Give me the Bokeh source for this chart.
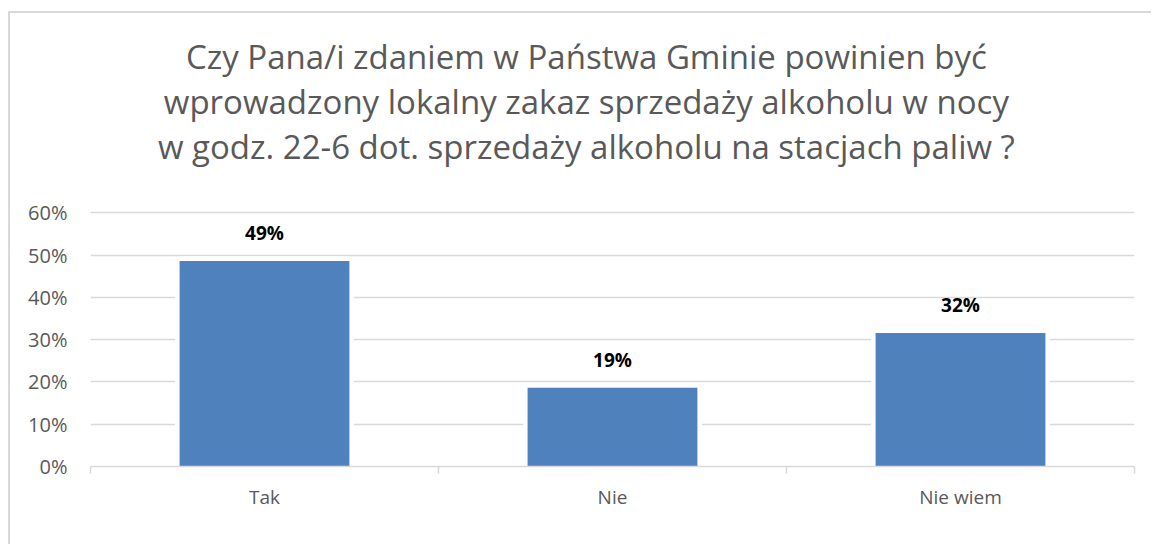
from bokeh.plotting import figure
from bokeh.models import Range1d, FixedTicker, NumeralTickFormatter, LabelSet, Label, ColumnDataSource
from bokeh.embed import file_html
from bokeh.resources import INLINE
from bokeh.core.properties import value

categories = ["Tak", "Nie", "Nie wiem"]
shares = [0.486, 0.186, 0.316]
y_ticks = [0, 0.1, 0.2, 0.3, 0.4, 0.5, 0.6]
title_lines = [
    "Czy Pana/i zdaniem w Państwa Gminie powinien być",
    "wprowadzony lokalny zakaz sprzedaży alkoholu w nocy",
    "w godz. 22-6 dot. sprzedaży alkoholu na stacjach paliw ?",
]

FONT = "Open Sans"
GRID = "#d9d9d9"
TXT = "#595959"

# frame extends to the top of the canvas so the title can sit inside it
Y_END = 1.0714
TITLE_X = 1.425
TITLE_Y0 = 0.969
TITLE_DY = 0.1064

xs = [i + 0.5 for i in range(len(categories))]
labels = [f"{v:.0%}" for v in shares]
src = ColumnDataSource(dict(x=xs, top=shares, label=labels))

p = figure(width=1143, height=533, output_backend="svg", toolbar_location=None,
           x_range=Range1d(0, len(categories)), y_range=Range1d(0, Y_END),
           min_border_left=80, min_border_right=19, min_border_top=0, min_border_bottom=80,
           styles={"border-left": "2px solid #d9d9d9", "border-top": "2px solid #d9d9d9",
                   "margin-top": "11px", "margin-left": "8px"})
p.outline_line_color = None
p.background_fill_color = "white"
p.border_fill_color = "white"

# white halo behind bars (gridline gaps), then the bars
p.vbar(x="x", top="top", bottom=0, width=0.488, source=src,
       fill_color="white", line_color="white", line_width=9)
p.vbar(x="x", top="top", bottom=0, width=0.488, source=src,
       fill_color="#4f81bd", line_color=None)

xa = p.xaxis[0]
xa.ticker = FixedTicker(ticks=xs, minor_ticks=list(range(len(categories) + 1)))
xa.major_label_overrides = {x: c for x, c in zip(xs, categories)}
xa.major_tick_out = 0
xa.major_tick_in = 0
xa.minor_tick_out = 7
xa.minor_tick_in = 0
xa.minor_tick_line_color = GRID
xa.minor_tick_line_width = 1.5
xa.axis_line_color = GRID
xa.axis_line_width = 1.5
xa.major_label_standoff = 10
xa.major_label_text_font = FONT
xa.major_label_text_font_size = "19px"
xa.major_label_text_color = TXT

ya = p.yaxis[0]
ya.ticker = FixedTicker(ticks=y_ticks)
ya.formatter = NumeralTickFormatter(format="0%")
ya.axis_line_color = None
ya.major_tick_out = 0
ya.major_tick_in = 0
ya.minor_tick_line_color = None
ya.major_label_standoff = 23
ya.major_label_text_font = FONT
ya.major_label_text_font_size = "20px"
ya.major_label_text_color = TXT

p.xgrid.visible = False
p.ygrid.ticker = FixedTicker(ticks=y_ticks)
p.ygrid.grid_line_color = GRID
p.ygrid.grid_line_width = 1.3

p.add_layout(LabelSet(x="x", y="top", text="label", source=src, y_offset=21,
                      text_align="center", text_baseline="alphabetic",
                      text_font=value(FONT), text_font_style="bold",
                      text_font_size="19px", text_color="black"))

for i, line in enumerate(title_lines):
    p.add_layout(Label(x=TITLE_X, y=TITLE_Y0 - TITLE_DY * i,
                       text=line, text_align="center", text_baseline="alphabetic",
                       text_font=FONT, text_font_size="33px", text_color=TXT))

open("out.html", "w").write(file_html(p, INLINE))
